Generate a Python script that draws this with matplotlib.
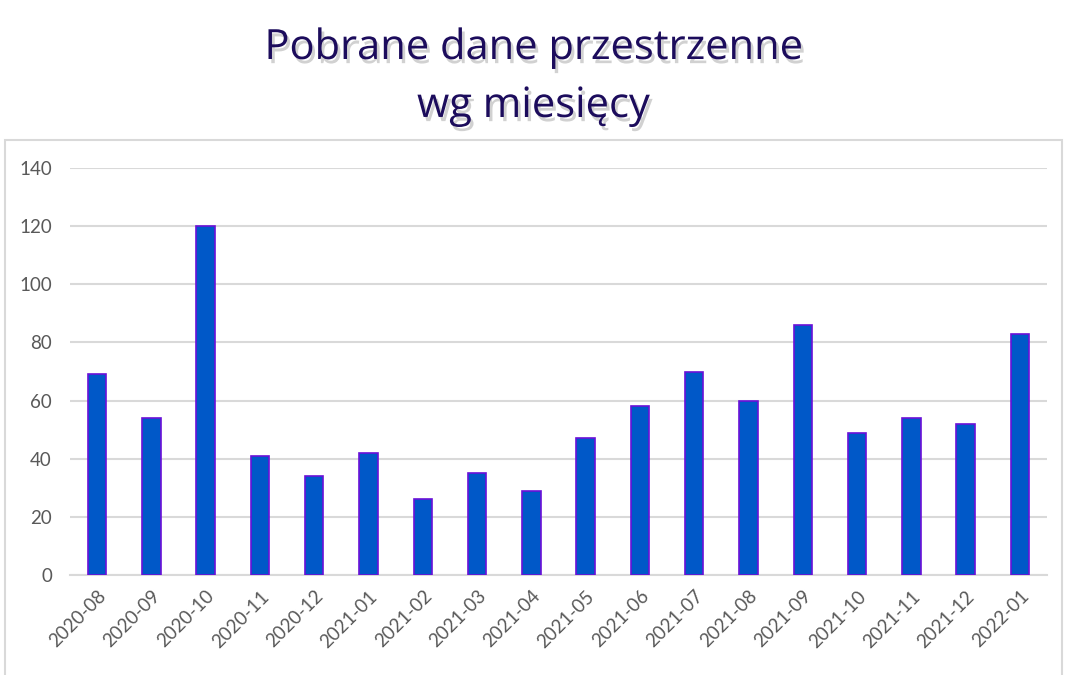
import matplotlib.pyplot as plt
import matplotlib.patheffects as pe
from matplotlib.patches import Rectangle

months = ['2020-08', '2020-09', '2020-10', '2020-11', '2020-12', '2021-01',
          '2021-02', '2021-03', '2021-04', '2021-05', '2021-06', '2021-07',
          '2021-08', '2021-09', '2021-10', '2021-11', '2021-12', '2022-01']
downloads = [69, 54, 120, 41, 34, 42, 26, 35, 29, 47, 58, 70, 60, 86, 49, 54, 52, 83]
yTicks = [0, 20, 40, 60, 80, 100, 120, 140]

plt.rcParams['font.family'] = ['Lato', 'DejaVu Sans']

fig = plt.figure(figsize=(10.67, 6.75), dpi=100)
fig.set_facecolor('white')

# chart frame below the title (bottom edge runs off the picture)
W, H = 1067, 675
fig.patches.append(Rectangle((5 / W, -10 / H), 1057 / W, (H - 140 + 10) / H,
                             transform=fig.transFigure, fill=False,
                             edgecolor='#d9d9d9', linewidth=1.5))

shadow = [pe.withSimplePatchShadow(offset=(2, -3), shadow_rgbFace='#9a9a9a', alpha=0.45)]
fig.text(0.5, 1 - 59 / H, 'Pobrane dane przestrzenne', ha='center', va='baseline',
         fontsize=30, color='#1c0c5c', family=['Open Sans', 'DejaVu Sans'], path_effects=shadow)
fig.text(0.5, 1 - 117 / H, 'wg miesięcy', ha='center', va='baseline',
         fontsize=30, color='#1c0c5c', family=['Open Sans', 'DejaVu Sans'], path_effects=shadow)

ax = fig.add_axes([70 / W, 1 - 575 / H, (1047 - 70) / W, (575 - 168) / H])
x = range(len(months))
ax.bar(x, downloads, width=0.34, color='#0058c8', edgecolor='#6a10d8', linewidth=1.2, zorder=3)

ax.set_xlim(-0.5, len(months) - 0.5)
ax.set_ylim(0, 140)
ax.set_yticks(yTicks)
ax.set_xticks(list(x))
ax.set_xticklabels(months, rotation=45, ha='right', rotation_mode='anchor')
ax.tick_params(axis='both', length=0, labelsize=13.5, labelcolor='#595959')
ax.tick_params(axis='y', pad=13)
ax.tick_params(axis='x', pad=9)
ax.grid(axis='y', color='#d9d9d9', linewidth=1.5, zorder=0)
for side in ['top', 'right', 'left']:
    ax.spines[side].set_visible(False)
ax.spines['bottom'].set_color('#d9d9d9')
ax.spines['bottom'].set_linewidth(1.5)

fig.savefig('out.png', dpi=100)
